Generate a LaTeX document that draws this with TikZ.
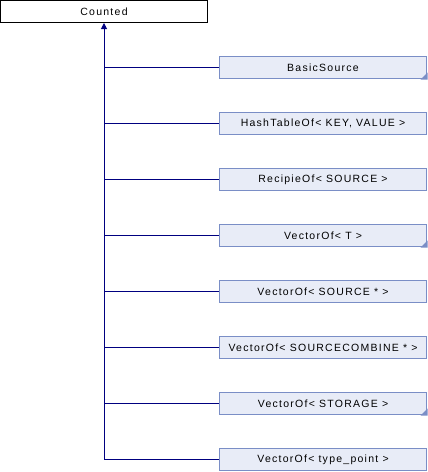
\documentclass[tikz,border=0pt]{standalone}
\usepackage{fontspec}
\setmainfont{Liberation Sans}[LetterSpace=12]
\usetikzlibrary{arrows.meta}
\definecolor{edgeblue}{HTML}{000080}
\definecolor{boxfill}{HTML}{E8ECF7}
\definecolor{boxline}{HTML}{7A8EC6}
\tikzset{
  base/.style={draw=black, fill=white, line width=1pt, minimum width=207pt, minimum height=22pt, inner sep=0pt, font=\fontsize{10.5}{12}\selectfont},
  child/.style={draw=boxline, fill=boxfill, line width=1pt, minimum width=207pt, minimum height=22pt, inner sep=0pt, font=\fontsize{10.5}{12}\selectfont},
  edge/.style={draw=edgeblue, line width=1pt},
}
\newcommand{\morecorner}[1]{\fill[boxline] ([shift={(0.5,0.5)}]#1.south east) -- ++(0,-7) -- ++(-7,7) -- cycle;}
\begin{document}
\begin{tikzpicture}[x=1pt,y=-1pt]
\useasboundingbox (0,0) rectangle (428,472);
\node[base] (counted) at (104,11.5) {Counted};
\node[child] (c1) at (323,67.5) {BasicSource};
\node[child] (c2) at (323,123.5) {HashTableOf< KEY, VALUE >};
\node[child] (c3) at (323,179.5) {RecipieOf< SOURCE >};
\node[child] (c4) at (323,235.5) {VectorOf< T >};
\node[child] (c5) at (323,291.5) {VectorOf< SOURCE * >};
\node[child] (c6) at (323,347.5) {VectorOf< SOURCECOMBINE * >};
\node[child] (c7) at (323,403.5) {VectorOf< STORAGE >};
\node[child] (c8) at (323,459.5) {VectorOf< type\_point >};
\morecorner{c1}
\morecorner{c4}
\morecorner{c7}
\coordinate (bottom) at (104,459.5);
\draw[edge, -{Triangle[length=6pt,width=6pt]}] (bottom) -- (counted.south);
\foreach \i in {1,...,8} {
  \draw[edge] (counted.south |- c\i.west) -- (c\i.west);
}
\end{tikzpicture}
\end{document}
